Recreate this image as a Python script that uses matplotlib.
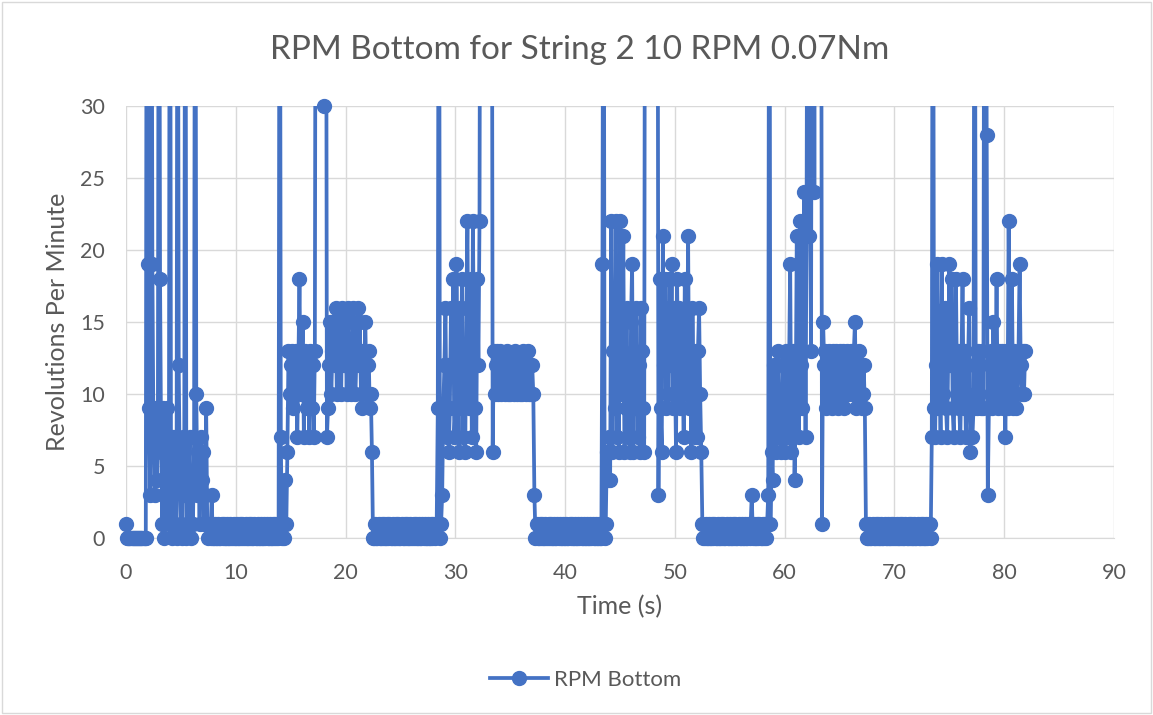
import matplotlib
matplotlib.use("Agg")
import matplotlib.pyplot as plt
import numpy as np
from matplotlib.patches import Rectangle
from matplotlib.transforms import Bbox, TransformedBbox

# logger samples every 0.1 s starting at t = 0
SAMPLE_START = 0.0
SAMPLE_STEP = 0.1

# RPM readings, one row per 2 s of recording (values above 30 run off the chart)
rpm_bottom = [
    1, 0, 0, 0, 0, 0, 0, 0, 0, 0, 0, 0, 0, 0, 0, 0, 0, 0, 0, 60,
    19, 9, 3, 60, 19, 7, 3, 9, 4, 7, 60, 18, 6, 1, 9, 0, 3, 9, 7, 1,
    60, 3, 0, 7, 4, 1, 0, 60, 12, 4, 1, 0, 7, 3, 60, 0, 1, 4, 7, 0,
    4, 1, 7, 60, 10, 3, 6, 1, 7, 4, 6, 1, 3, 9, 1, 0, 1, 0, 3, 0,
    0, 1, 0, 0, 1, 0, 0, 1, 0, 1, 0, 0, 1, 0, 0, 1, 0, 0, 1, 0,
    0, 1, 0, 0, 1, 0, 1, 0, 0, 1, 0, 0, 1, 0, 1, 0, 0, 1, 0, 0,
    1, 0, 0, 1, 0, 0, 1, 0, 1, 0, 0, 1, 0, 0, 1, 0, 1, 0, 0, 1,
    60, 7, 0, 1, 0, 4, 1, 6, 13, 10, 12, 13, 9, 12, 10, 13, 7, 12, 18, 10,
    12, 15, 7, 13, 10, 9, 12, 7, 13, 9, 12, 7, 13, 60, 60, 60, 60, 60, 60, 60,
    30, 60, 60, 7, 9, 12, 15, 10, 13, 15, 12, 16, 10, 13, 15, 12, 10, 16, 13, 12,
    15, 10, 16, 12, 13, 10, 15, 16, 12, 10, 13, 16, 12, 15, 10, 9, 13, 12, 15, 10,
    12, 13, 9, 10, 6, 0, 0, 1, 0, 0, 1, 0, 0, 1, 0, 1, 0, 0, 1, 0,
    1, 0, 0, 1, 0, 0, 1, 0, 1, 0, 0, 1, 0, 0, 1, 0, 1, 0, 0, 1,
    0, 0, 1, 0, 1, 0, 0, 1, 0, 0, 1, 0, 1, 0, 0, 1, 0, 0, 1, 0,
    1, 0, 1, 1, 9, 60, 0, 1, 3, 9, 12, 16, 7, 12, 6, 9, 16, 12, 18, 7,
    9, 19, 12, 6, 16, 9, 18, 7, 12, 6, 16, 22, 9, 12, 18, 7, 22, 12, 9, 6,
    18, 12, 22, 60, 60, 60, 60, 60, 60, 60, 60, 60, 60, 60, 6, 13, 10, 12, 13, 10,
    12, 13, 10, 12, 11, 10, 12, 13, 10, 12, 10, 11, 12, 10, 13, 12, 10, 12, 11, 10,
    12, 10, 13, 12, 10, 12, 13, 10, 12, 10, 12, 10, 3, 0, 1, 0, 0, 1, 0, 1,
    0, 0, 1, 0, 0, 1, 0, 1, 0, 0, 1, 0, 0, 1, 0, 1, 0, 0, 1, 0,
    0, 1, 0, 0, 1, 0, 1, 0, 0, 1, 0, 0, 1, 0, 1, 0, 0, 1, 0, 0,
    1, 0, 0, 1, 0, 1, 0, 0, 1, 0, 0, 1, 0, 0, 19, 60, 0, 1, 6, 4,
    7, 4, 22, 6, 13, 9, 22, 7, 15, 6, 22, 10, 13, 21, 6, 9, 16, 7, 12, 6,
    15, 19, 6, 13, 9, 16, 7, 12, 6, 16, 13, 9, 6, 60, 60, 60, 60, 60, 60, 60,
    60, 60, 60, 60, 60, 3, 18, 9, 6, 21, 12, 18, 9, 16, 10, 18, 12, 19, 9, 16,
    12, 6, 18, 10, 16, 9, 15, 12, 7, 18, 13, 10, 21, 9, 12, 6, 16, 10, 7, 13,
    7, 13, 16, 10, 6, 1, 0, 0, 1, 0, 0, 1, 0, 0, 1, 0, 1, 0, 0, 1,
    0, 0, 1, 0, 1, 0, 0, 1, 0, 0, 1, 0, 0, 1, 0, 1, 0, 0, 1, 0,
    0, 1, 0, 0, 1, 0, 0, 1, 0, 1, 3, 0, 1, 0, 0, 1, 0, 1, 0, 0,
    1, 0, 1, 0, 1, 3, 60, 1, 6, 4, 12, 9, 6, 10, 13, 7, 9, 6, 12, 10,
    6, 13, 9, 7, 12, 19, 6, 10, 13, 4, 9, 21, 13, 7, 22, 12, 9, 21, 24, 7,
    24, 60, 21, 24, 13, 60, 60, 24, 60, 60, 60, 60, 60, 60, 1, 15, 12, 13, 9, 12,
    13, 10, 12, 9, 13, 12, 10, 13, 12, 9, 13, 10, 12, 13, 9, 12, 10, 13, 12, 10,
    13, 12, 10, 13, 15, 9, 12, 10, 13, 12, 9, 10, 12, 9, 1, 0, 0, 1, 0, 0,
    1, 0, 0, 1, 0, 1, 0, 0, 1, 0, 0, 1, 0, 0, 1, 0, 0, 1, 0, 1,
    0, 0, 1, 0, 0, 1, 0, 1, 0, 0, 1, 0, 0, 1, 0, 1, 0, 0, 1, 0,
    0, 1, 0, 0, 1, 0, 1, 0, 0, 1, 0, 1, 1, 0, 7, 60, 9, 7, 12, 19,
    9, 13, 7, 19, 10, 12, 16, 9, 7, 13, 19, 12, 18, 9, 7, 12, 18, 10, 13, 9,
    7, 12, 18, 9, 13, 7, 10, 12, 16, 6, 9, 7, 9, 60, 12, 9, 13, 10, 12, 9,
    13, 9, 60, 60, 28, 3, 9, 12, 13, 9, 15, 12, 10, 18, 9, 13, 12, 10, 13, 9,
    12, 7, 13, 9, 22, 12, 10, 18, 9, 13, 12, 9, 10, 13, 19, 12, 10, 13, 10, 13,
]

x_ticks = [0, 10, 20, 30, 40, 50, 60, 70, 80, 90]
y_ticks = [0, 5, 10, 15, 20, 25, 30]

TITLE = "RPM Bottom for String 2 10 RPM 0.07Nm"
SERIES = "RPM Bottom"
BLUE = "#4472C4"
GREY_TEXT = "#595959"
GRID = "#D9D9D9"

plt.rcParams["font.family"] = ["Lato", "DejaVu Sans"]

rpm = np.array(rpm_bottom, dtype=float)
time_s = SAMPLE_START + SAMPLE_STEP * np.arange(len(rpm))
rpm_shown = np.where(rpm <= y_ticks[-1], rpm, np.nan)

fig = plt.figure(figsize=(11.53, 7.15), dpi=100)
fig.patches.append(Rectangle((0.002, 0.003), 0.996, 0.994, transform=fig.transFigure,
                             fill=False, edgecolor=GRID, linewidth=1.0))
ax = fig.add_axes([0.1093, 0.2476, 0.8569, 0.6041])

line, = ax.plot(time_s, rpm, color=BLUE, linewidth=2.7, solid_joinstyle="round", zorder=3)
line.set_clip_box(TransformedBbox(Bbox([[0, -0.03], [1, 1]]), ax.transAxes))
ax.plot(time_s, rpm_shown, linestyle="none", marker="o", markersize=10,
        color=BLUE, clip_on=False, zorder=4)

ax.set_xlim(x_ticks[0], x_ticks[-1])
ax.set_ylim(y_ticks[0], y_ticks[-1])
ax.set_xticks(x_ticks)
ax.set_yticks(y_ticks)
ax.grid(True, color=GRID, linewidth=1.0, zorder=0)
ax.set_axisbelow(True)
for side in ["top", "left", "right"]:
    ax.spines[side].set_visible(False)
ax.spines["bottom"].set_color(GRID)
ax.tick_params(length=0, labelsize=15.5, labelcolor=GREY_TEXT)
ax.tick_params(axis="x", pad=18)
ax.tick_params(axis="y", pad=15)

ax.set_xlabel("Time (s)", fontsize=18, color=GREY_TEXT, labelpad=9)
ax.set_ylabel("Revolutions Per Minute", fontsize=18, color=GREY_TEXT, labelpad=8)
fig.text(0.503, 0.930, TITLE, ha="center", va="center", fontsize=24, color=GREY_TEXT)

handle, = ax.plot([], [], color=BLUE, linewidth=2.7, marker="o", markersize=10)
fig.legend([handle], [SERIES], loc="center", bbox_to_anchor=(0.508, 0.049), frameon=False,
           fontsize=16, handlelength=2.6, handletextpad=0.3, labelcolor=GREY_TEXT)

fig.savefig("out.png", dpi=100)
plt.close(fig)
